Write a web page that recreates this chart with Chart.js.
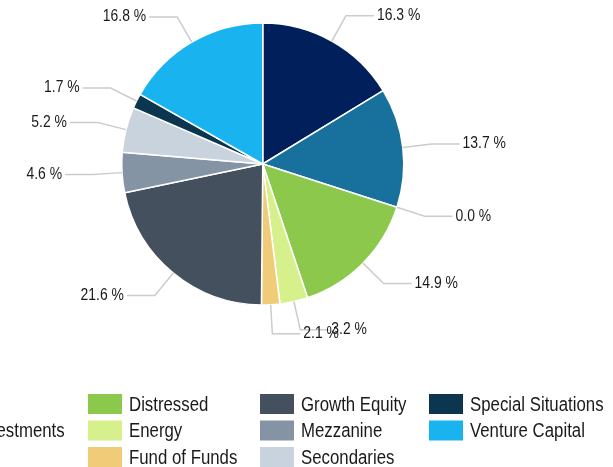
<!DOCTYPE html>
<html>
<head>
<meta charset="utf-8">
<script src="https://cdn.jsdelivr.net/npm/chart.js@4.4.0/dist/chart.umd.min.js"></script>
<style>
  html, body { margin: 0; padding: 0; background: #fff; }
  #wrap { position: relative; width: 613px; height: 467px; overflow: hidden; }
</style>
</head>
<body>
<div id="wrap"><canvas id="strategyChart"></canvas></div>
<script>
const categories = ['Buyout', 'Co-Investments', 'Debt', 'Distressed', 'Energy', 'Fund of Funds',
  'Growth Equity', 'Mezzanine', 'Secondaries', 'Special Situations', 'Venture Capital'];
const shares = [16.3, 13.7, 0.0, 14.9, 3.2, 2.1, 21.6, 4.6, 5.2, 1.7, 16.8];
const colors = ['#001f5b', '#18709c', '#f28f43', '#8cc84b', '#d6f08c', '#f0cb78',
  '#44505e', '#8594a5', '#c9d3dd', '#0c3650', '#19b4f0'];

// Rótulos externos com linhas de ligação
const outsideLabels = {
  id: 'outsideLabels',
  afterDatasetsDraw(chart) {
    const ctx = chart.ctx;
    const meta = chart.getDatasetMeta(0);
    ctx.save();
    ctx.strokeStyle = '#cccccc';
    ctx.lineWidth = 1.5;
    ctx.fillStyle = '#1a1a1a';
    ctx.font = '16px "Liberation Sans", Arial, sans-serif';
    ctx.textBaseline = 'middle';
    meta.data.forEach((arc, i) => {
      const { x, y, startAngle, endAngle, outerRadius } = arc.getProps(['x', 'y', 'startAngle', 'endAngle', 'outerRadius'], true);
      const mid = (startAngle + endAngle) / 2;
      const cos = Math.cos(mid), sin = Math.sin(mid);
      const right = cos >= 0;
      const ex = x + outerRadius * cos, ey = y + outerRadius * sin;
      const bx = x + (outerRadius + 29) * cos, by = y + (outerRadius + 29) * sin;
      const hx = bx + (right ? 28 : -28);
      ctx.beginPath();
      ctx.moveTo(ex, ey);
      ctx.lineTo(bx, by);
      ctx.lineTo(hx, by);
      ctx.stroke();
      ctx.save();
      ctx.translate(hx + (right ? 3 : -3), by);
      ctx.scale(0.87, 1);
      ctx.textAlign = right ? 'left' : 'right';
      ctx.fillText(shares[i].toFixed(1) + ' %', 0, 0);
      ctx.restore();
    });
    ctx.restore();
  }
};

// Legenda em colunas (3 linhas por coluna)
const columnLegend = {
  id: 'columnLegend',
  afterDraw(chart) {
    const ctx = chart.ctx;
    const colX = [-94, 88, 260, 429];
    const rowY = [404, 430.5, 457];
    ctx.save();
    ctx.font = '20px "Liberation Sans", Arial, sans-serif';
    ctx.textBaseline = 'middle';
    ctx.textAlign = 'left';
    categories.forEach((name, i) => {
      const bx = colX[Math.floor(i / 3)];
      const cy = rowY[i % 3];
      ctx.fillStyle = colors[i];
      ctx.fillRect(bx, cy - 10, 34, 20);
      ctx.fillStyle = '#1a1a1a';
      ctx.save();
      ctx.translate(bx + 41, cy + 1);
      ctx.scale(0.84, 1);
      ctx.fillText(name, 0, 0);
      ctx.restore();
    });
    ctx.restore();
  }
};

const ctx = document.getElementById('strategyChart').getContext('2d');
const strategyChart = new Chart(ctx, {
  type: 'pie',
  data: {
    labels: categories,
    datasets: [{
      data: shares,
      backgroundColor: colors,
      borderColor: '#ffffff',
      borderWidth: 1.5
    }]
  },
  options: {
    responsive: true,
    maintainAspectRatio: false,
    animation: false,
    layout: { padding: { left: 121, top: 22.25, right: 208.5, bottom: 161.25 } },
    plugins: {
      legend: { display: false },
      tooltip: { enabled: false }
    }
  },
  plugins: [outsideLabels, columnLegend]
});
</script>
</body>
</html>
